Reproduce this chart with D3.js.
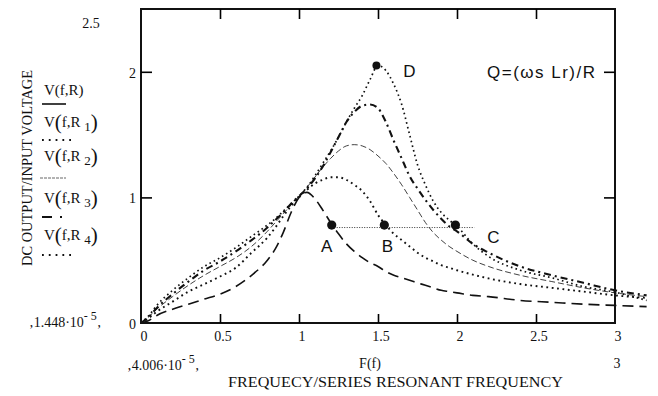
<!DOCTYPE html>
<meta charset="utf-8">
<style>
  body { margin: 0; background: #fff; }
  .serif { font-family: "Liberation Serif", "Times New Roman", serif; fill: #111; }
  .sans { font-family: "Liberation Sans", Arial, sans-serif; fill: #111; }
  .curve { fill: none; stroke: #111; }
</style>
<body>
<svg id="chart"></svg>
<script src="https://cdn.jsdelivr.net/npm/d3@7"></script>
<script>
  // normalised frequency f / fr
  var freq = [0, 0.05, 0.1, 0.2, 0.3, 0.4, 0.5, 0.6, 0.7, 0.8, 0.85, 0.9, 0.95, 1.0, 1.05, 1.1, 1.15, 1.2,
    1.25, 1.3, 1.35, 1.4, 1.45, 1.5, 1.55, 1.6, 1.65, 1.7, 1.75, 1.8, 1.85, 1.9, 1.95, 2.0, 2.1, 2.2,
    2.4, 2.6, 2.8, 3.0, 3.2];

  // DC output / input voltage
  var vfR = [0, 0.02, 0.06, 0.11, 0.15, 0.19, 0.23, 0.29, 0.38, 0.50, 0.59, 0.72, 0.88, 1.00, 1.04, 0.99, 0.90, 0.80,
    0.71, 0.63, 0.57, 0.52, 0.48, 0.45, 0.41, 0.38, 0.36, 0.34, 0.32, 0.30, 0.28, 0.26, 0.25, 0.24, 0.22, 0.21,
    0.18, 0.165, 0.15, 0.14, 0.13];
  var vfR1 = [0, 0.04, 0.09, 0.17, 0.25, 0.31, 0.37, 0.44, 0.56, 0.68, 0.76, 0.85, 0.93, 1.00, 1.06, 1.11, 1.14, 1.16,
    1.16, 1.14, 1.10, 1.05, 0.97, 0.86, 0.78, 0.71, 0.66, 0.61, 0.56, 0.52, 0.49, 0.46, 0.44, 0.42, 0.385, 0.355,
    0.31, 0.28, 0.25, 0.22, 0.20];
  var vfR2 = [0, 0.05, 0.11, 0.21, 0.30, 0.38, 0.45, 0.52, 0.61, 0.73, 0.80, 0.87, 0.94, 1.01, 1.08, 1.16, 1.24, 1.31,
    1.37, 1.41, 1.42, 1.41, 1.38, 1.33, 1.27, 1.19, 1.10, 1.00, 0.90, 0.80, 0.72, 0.66, 0.61, 0.57, 0.50, 0.45,
    0.38, 0.33, 0.28, 0.24, 0.21];
  var vfR3 = [0, 0.05, 0.12, 0.23, 0.33, 0.42, 0.49, 0.57, 0.66, 0.76, 0.82, 0.88, 0.95, 1.01, 1.07, 1.15, 1.245, 1.36,
    1.48, 1.60, 1.68, 1.73, 1.74, 1.71, 1.60, 1.45, 1.31, 1.17, 1.07, 0.98, 0.90, 0.83, 0.77, 0.73, 0.63, 0.56,
    0.45, 0.38, 0.32, 0.26, 0.22];
  var vfR4 = [0, 0.06, 0.14, 0.26, 0.36, 0.45, 0.52, 0.60, 0.69, 0.78, 0.83, 0.89, 0.95, 1.01, 1.08, 1.17, 1.27, 1.37,
    1.48, 1.60, 1.71, 1.81, 1.94, 2.05, 2.01, 1.90, 1.74, 1.50, 1.26, 1.10, 0.97, 0.88, 0.82, 0.77, 0.63, 0.53,
    0.42, 0.36, 0.29, 0.245, 0.18];

  var xTicks = [0, 0.5, 1, 1.5, 2, 2.5, 3];
  var yTicks = [0, 1, 2];
  var legendSubs = ["", "1", "2", "3", "4"];

  var markerF = [1.207, 1.54, 1.99, 1.49];
  var markerV = [0.78, 0.78, 0.78, 2.05];
  var markerNames = ["A", "B", "C", "D"];
  var refLine = { f0: 1.207, f1: 2.11, v: 0.76 };

  var width = 658, height = 396;

  var svg = d3.select("#chart").attr("width", width).attr("height", height);

  var x = d3.scaleLinear().domain([0, 3]).range([141, 615]);
  var y = d3.scaleLinear().domain([0, 2.5]).range([323, 9]);

  // curve styles: long dash, dotted, thin dash, bold dash-dot, dotted
  var series = [
    { v: vfR, dash: "11,6", w: 1.6, c: "#111" },
    { v: vfR1, dash: "1.8,3.6", w: 1.9, c: "#111" },
    { v: vfR2, dash: "6,3", w: 0.8, c: "#555" },
    { v: vfR3, dash: "7,4,2,4", w: 2.1, c: "#111" },
    { v: vfR4, dash: "1.6,3.2", w: 1.7, c: "#111" }
  ];

  var line = d3.line()
    .x(function (d) { return x(d[0]); })
    .y(function (d) { return y(d[1]); })
    .curve(d3.curveMonotoneX);

  svg.selectAll("path.curve")
    .data(series)
    .enter().append("path")
    .attr("class", "curve")
    .attr("d", function (s) { return line(freq.map(function (f, i) { return [f, s.v[i]]; })); })
    .attr("stroke", function (s) { return s.c; })
    .attr("stroke-width", function (s) { return s.w; })
    .attr("stroke-dasharray", function (s) { return s.dash; });

  // frame
  svg.append("rect")
    .attr("x", x(0)).attr("y", y(2.5))
    .attr("width", x(3) - x(0)).attr("height", y(0) - y(2.5))
    .attr("fill", "none").attr("stroke", "#111").attr("stroke-width", 2);

  // inner ticks on all four sides
  var innerX = xTicks.slice(1, -1), innerY = [1, 2];
  svg.append("g").attr("transform", "translate(0," + y(0) + ")")
    .call(d3.axisBottom(x).tickValues(innerX).tickSize(-9).tickFormat(""))
    .call(function (g) { g.select(".domain").remove(); g.selectAll("line").attr("stroke-width", 1.6); });
  svg.append("g").attr("transform", "translate(0," + y(2.5) + ")")
    .call(d3.axisTop(x).tickValues(innerX).tickSize(-10).tickFormat(""))
    .call(function (g) { g.select(".domain").remove(); g.selectAll("line").attr("stroke-width", 1.6); });
  svg.append("g").attr("transform", "translate(" + x(0) + ",0)")
    .call(d3.axisLeft(y).tickValues(innerY).tickSize(-11).tickFormat(""))
    .call(function (g) { g.select(".domain").remove(); g.selectAll("line").attr("stroke-width", 1.6); });
  svg.append("g").attr("transform", "translate(" + x(3) + ",0)")
    .call(d3.axisRight(y).tickValues(innerY).tickSize(-11).tickFormat(""))
    .call(function (g) { g.select(".domain").remove(); g.selectAll("line").attr("stroke-width", 1.6); });

  // tick labels
  svg.append("g").selectAll("text")
    .data(xTicks).enter().append("text")
    .attr("class", "serif").attr("font-size", 14)
    .attr("text-anchor", "middle")
    .attr("x", function (d) { return x(d) + 3; })
    .attr("y", 341)
    .text(function (d) { return d; });

  svg.append("g").selectAll("text")
    .data(yTicks).enter().append("text")
    .attr("class", "serif").attr("font-size", 14)
    .attr("text-anchor", "end")
    .attr("x", x(0) - 5)
    .attr("y", function (d) { return y(d) + 6; })
    .text(function (d) { return d; });

  svg.append("text").attr("class", "serif").attr("font-size", 14)
    .attr("text-anchor", "middle").attr("x", 91).attr("y", y(2.5) + 19).text("2.5");

  // Mathcad limit labels
  function limitLabel(tx, ty, mant) {
    var t = svg.append("text").attr("class", "serif").attr("font-size", 14).attr("x", tx).attr("y", ty);
    t.append("tspan").text("\u201a" + mant + "\u00b710");
    t.append("tspan").attr("dy", -7).attr("font-size", 12).text("- 5");
    t.append("tspan").attr("dy", 7).text("\u201a");
  }
  limitLabel(29, 327, "1.448");
  limitLabel(127, 370, "4.006");

  svg.append("text").attr("class", "serif").attr("font-size", 14)
    .attr("text-anchor", "middle").attr("x", 370).attr("y", 368).text("F(f)");
  svg.append("text").attr("class", "serif").attr("font-size", 14)
    .attr("text-anchor", "middle").attr("x", 617).attr("y", 368).text("3");

  // axis titles
  svg.append("text").attr("class", "serif").attr("font-size", 15)
    .attr("x", 228).attr("y", 387)
    .attr("textLength", 335).attr("lengthAdjust", "spacingAndGlyphs")
    .text("FREQUECY/SERIES RESONANT FREQUENCY");
  svg.append("text").attr("class", "serif").attr("font-size", 15)
    .attr("transform", "translate(32,266) rotate(-90)")
    .attr("textLength", 196).attr("lengthAdjust", "spacingAndGlyphs")
    .text("DC OUTPUT/INPUT VOLTAGE");

  // legend
  var legBase = [95, 127, 161, 203, 240];
  var legLine = [104, 140, 178, 217, 255];
  var legStyle = [
    { dash: null, w: 1.6, x1: 42, x2: 66, c: "#111" },
    { dash: "1.8,5", w: 1.9, x1: 42, x2: 71, c: "#111" },
    { dash: "3,1", w: 0.9, x1: 40, x2: 66, c: "#555" },
    { dash: "10,8,2,8", w: 2, x1: 42, x2: 63, c: "#111" },
    { dash: "1.8,5", w: 1.9, x1: 42, x2: 71, c: "#111" }
  ];
  legendSubs.forEach(function (s, i) {
    var t = svg.append("text").attr("class", "serif").attr("font-size", 15)
      .attr("x", 44).attr("y", legBase[i]);
    if (s === "") {
      t.text("V(f,R)");
    } else {
      t.append("tspan").text("V");
      t.append("tspan").attr("font-size", 21).attr("dy", 2).text("(");
      t.append("tspan").attr("dy", -2).text("f,R ");
      t.append("tspan").attr("font-size", 13).attr("dy", 4).text(s);
      t.append("tspan").attr("font-size", 21).attr("dy", -2).text(")");
    }
    var st = legStyle[i];
    svg.append("line")
      .attr("x1", st.x1).attr("x2", st.x2)
      .attr("y1", legLine[i]).attr("y2", legLine[i])
      .attr("stroke", st.c).attr("stroke-width", st.w)
      .attr("stroke-dasharray", st.dash);
  });

  // operating points
  svg.append("line")
    .attr("x1", x(refLine.f0)).attr("x2", x(refLine.f1))
    .attr("y1", y(refLine.v)).attr("y2", y(refLine.v))
    .attr("stroke", "#333").attr("stroke-width", 1).attr("stroke-dasharray", "1,1.5");

  var labelOff = [[-5, 27], [3, 27], [38, 18], [33, 11]];
  markerF.forEach(function (f, i) {
    svg.append("circle")
      .attr("cx", x(f)).attr("cy", y(markerV[i]))
      .attr("r", i === 3 ? 4 : 4.6).attr("fill", "#111");
    svg.append("text").attr("class", "sans").attr("font-size", 17)
      .attr("text-anchor", "middle")
      .attr("x", x(f) + labelOff[i][0]).attr("y", y(markerV[i]) + labelOff[i][1])
      .text(markerNames[i]);
  });

  svg.append("text").attr("class", "sans").attr("font-size", 17)
    .attr("x", 487).attr("y", 78)
    .attr("textLength", 108).attr("lengthAdjust", "spacing")
    .text("Q=(\u03c9s Lr)/R");
</script>
</body>
